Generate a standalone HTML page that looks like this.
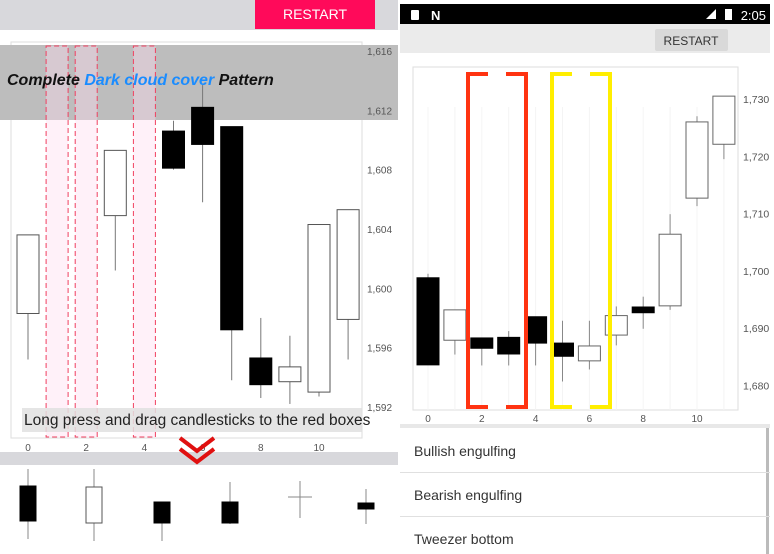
<!DOCTYPE html>
<html><head><meta charset="utf-8"><style>
body{margin:0;width:774px;height:554px;overflow:hidden;background:#fff;font-family:"Liberation Sans",sans-serif;position:relative}
.abs{position:absolute}
</style></head><body>
<svg class="abs" style="left:0;top:0" width="774" height="554">
<!-- LEFT PANEL -->
<rect x="0" y="0" width="398" height="30" fill="#d8d8dc"/>
<rect x="255" y="0" width="120" height="29" fill="#ff0a5a"/>
<text x="315" y="19" text-anchor="middle" fill="#fff" font-size="14">RESTART</text>
<g id="L"></g>
<!-- RIGHT PANEL -->
<rect x="400" y="4" width="370" height="20" fill="#000"/>
<rect x="411" y="10" width="8" height="10" rx="1" fill="#fff"/>
<text x="431" y="20" fill="#fff" font-size="13" font-weight="bold">N</text>
<path d="M706 19 L716 9 L716 19 Z" fill="#fff"/>
<rect x="725" y="9" width="7" height="11" fill="#fff"/>
<text x="766" y="20" text-anchor="end" fill="#fff" font-size="13">2:05</text>
<rect x="400" y="24" width="370" height="29" fill="#ebebeb"/>
<rect x="655" y="29" width="73" height="22" rx="2" fill="#d9d9d9"/>
<text x="691" y="45" text-anchor="middle" fill="#333" font-size="12">RESTART</text>
<g id="R"></g>
<rect x="400" y="424" width="370" height="4" fill="#e8e8e8"/>
<rect x="766" y="428" width="3" height="126" fill="#bbb"/>
<g font-size="14" fill="#333">
<text x="414" y="456">Bullish engulfing</text>
<line x1="400" x2="770" y1="472.5" y2="472.5" stroke="#e0e0e0"/>
<text x="414" y="500">Bearish engulfing</text>
<line x1="400" x2="770" y1="516.5" y2="516.5" stroke="#e0e0e0"/>
<text x="414" y="544">Tweezer bottom</text>
</g>
</svg>
<script>
// ---- LEFT chart data ----
const leftIdx   = [0, 3, 5, 6, 7, 8, 9, 10, 11];
const leftOpen  = [1598.3, 1604.9, 1610.6, 1612.2, 1610.9, 1595.3, 1593.7, 1593.0, 1597.9];
const leftClose = [1603.6, 1609.3, 1608.1, 1609.7, 1597.2, 1593.5, 1594.7, 1604.3, 1605.3];
const leftHigh  = [1603.6, 1609.3, 1611.3, 1613.7, 1610.9, 1598.0, 1596.8, 1604.3, 1605.3];
const leftLow   = [1595.2, 1601.2, 1608.0, 1605.8, 1593.8, 1592.6, 1592.2, 1592.7, 1595.2];
const leftYTicks = [1616, 1612, 1608, 1604, 1600, 1596, 1592];
const leftXTicks = [0, 2, 4, 6, 8, 10];
const leftBoxes = [1, 2, 4];
// ---- RIGHT chart data ----
const rightOpen  = [1698.8, 1687.9, 1688.3, 1688.4, 1692.0, 1687.4, 1684.3, 1688.8, 1693.7, 1693.9, 1712.7, 1722.1];
const rightClose = [1683.6, 1693.2, 1686.5, 1685.5, 1687.4, 1685.1, 1686.9, 1692.2, 1692.7, 1706.4, 1726.0, 1730.5];
const rightHigh  = [1699.5, 1693.2, 1688.3, 1689.5, 1692.0, 1691.3, 1691.3, 1693.8, 1695.5, 1709.9, 1727.0, 1730.5];
const rightLow   = [1683.6, 1685.4, 1683.5, 1683.5, 1683.5, 1680.7, 1682.8, 1687.0, 1689.9, 1693.2, 1711.3, 1719.5];
const rightYTicks = [1730, 1720, 1710, 1700, 1690, 1680];
const rightXTicks = [0, 2, 4, 6, 8, 10];

const NS = 'http://www.w3.org/2000/svg';
function mk(parent, tag, attrs){const e=document.createElementNS(NS,tag);for(const k in attrs)e.setAttribute(k,attrs[k]);parent.appendChild(e);return e;}

// LEFT
const L = document.getElementById('L');
const lx = i => 28 + 29.1*i;
const ly = v => 51 + (1616 - v)*14.83;
let r = mk(L,'rect',{x:11,y:42,width:351,height:396,fill:'none',stroke:'#ddd'});


r=mk(L,'rect',{x:0,y:45,width:398,height:75,fill:'#bdbdbd'});


leftBoxes.forEach(b=>{
  const e = mk(L,'rect',{x:lx(b)-11,y:46,width:22,height:391,fill:'rgba(255,220,240,0.4)',stroke:'#f04060','stroke-dasharray':'5,3'});
  
  
});
leftIdx.forEach((ix,k)=>{
  const g = mk(L,'g',{});
  
  
  const x=lx(ix), o=leftOpen[k], c=leftClose[k];
  mk(g,'line',{x1:x,x2:x,y1:ly(leftHigh[k]),y2:ly(leftLow[k]),stroke:'#777'});
  const bull=c>o;
  mk(g,'rect',{x:x-11,y:ly(Math.max(o,c)),width:22,height:Math.max(1,ly(Math.min(o,c))-ly(Math.max(o,c))),fill:bull?'#fff':'#000',stroke:bull?'#555':'#000'});
});
leftYTicks.forEach(t=>{
  const e=mk(L,'text',{x:367,y:ly(t)+4,'font-size':10,fill:'#555'});e.textContent=t.toLocaleString('en-US');
  
  
});
leftXTicks.forEach(t=>{
  const e=mk(L,'text',{x:lx(t),y:451,'font-size':10,fill:'#555','text-anchor':'middle'});e.textContent=t;
  
  
});
let t=mk(L,'text',{x:7,y:85,'font-size':16,'font-style':'italic','font-weight':'bold',fill:'#111'});
t.innerHTML='Complete <tspan fill="#1a8cff">Dark cloud cover</tspan> Pattern';


r=mk(L,'rect',{x:22,y:408,width:340,height:24,fill:'rgba(225,225,225,0.85)'});


t=mk(L,'text',{x:24,y:425,'font-size':15.5,fill:'#222'});t.textContent='Long press and drag candlesticks to the red boxes';


r=mk(L,'rect',{x:0,y:452,width:398,height:13,fill:'#d8d8dc'});


let p=mk(L,'path',{d:'M180 438 L197 451 L214 438 M180 449 L197 462 L214 449',fill:'none',stroke:'#e01010','stroke-width':4});


const trayX=[28,94,162,230,300,366];
const trayBody=[[486,521,'#000'],[487,523,'#fff'],[502,523,'#000'],[502,523,'#000'],null,[503,509,'#000']];
const trayWick=[[469,539],[469,541],[502,541],[482,524],[481,518],[489,524]];
trayX.forEach((x,k)=>{
  const g=mk(L,'g',{});
  
  
  mk(g,'line',{x1:x,x2:x,y1:trayWick[k][0],y2:trayWick[k][1],stroke:'#888'});
  const b=trayBody[k];
  if(b) mk(g,'rect',{x:x-8,y:b[0],width:16,height:b[1]-b[0],fill:b[2],stroke:b[2]=='#fff'?'#555':'#000'});
  else mk(g,'line',{x1:x-12,x2:x+12,y1:497,y2:497,stroke:'#888'});
});

// RIGHT
const R=document.getElementById('R');
const rx=i=>428+26.9*i;
const ry=v=>99+(1730-v)*5.73;
r=mk(R,'rect',{x:413,y:67,width:325,height:343,fill:'none',stroke:'#ddd'});


rightOpen.forEach((o,i)=>{
  const gl=mk(R,'line',{x1:rx(i),x2:rx(i),y1:107,y2:410,stroke:'#f4f4f4'});
  
  
});
rightOpen.forEach((o,i)=>{
  const g=mk(R,'g',{});
  
  
  const c=rightClose[i],x=rx(i),bull=c>o;
  mk(g,'line',{x1:x,x2:x,y1:ry(rightHigh[i]),y2:ry(rightLow[i]),stroke:'#888'});
  mk(g,'rect',{x:x-11,y:ry(Math.max(o,c)),width:22,height:Math.max(1,ry(Math.min(o,c))-ry(Math.max(o,c))),fill:bull?'#fff':'#000',stroke:bull?'#666':'#000'});
});
function bracket(x1,x2,col,name){
  const g=mk(R,'g',{fill:'none',stroke:col,'stroke-width':4});
  
  
  mk(g,'path',{d:`M${x1+20} 74 L${x1} 74 L${x1} 407 L${x1+20} 407`});
  mk(g,'path',{d:`M${x2-20} 74 L${x2} 74 L${x2} 407 L${x2-20} 407`});
}
bracket(468,526,'#ff3311','red-bracket');
bracket(552,610,'#ffee00','yellow-bracket');
rightYTicks.forEach(v=>{
  const e=mk(R,'text',{x:743,y:ry(v)+4,'font-size':10.5,fill:'#555'});e.textContent=v.toLocaleString('en-US');
  
  
});
rightXTicks.forEach(v=>{
  const e=mk(R,'text',{x:rx(v),y:422,'font-size':10,fill:'#555','text-anchor':'middle'});e.textContent=v;
  
  
});
</script>
</body></html>
